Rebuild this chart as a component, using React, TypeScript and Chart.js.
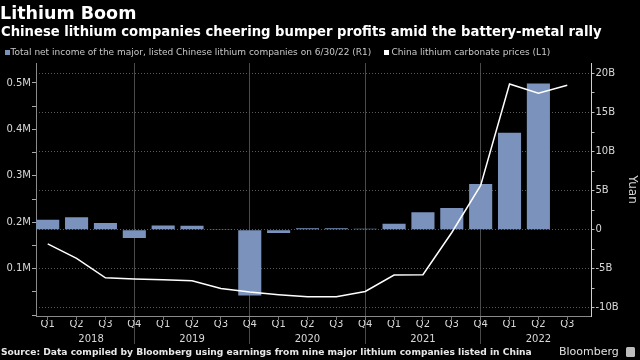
import React, { useEffect, useRef } from 'react';
import { Chart, registerables } from 'chart.js';

Chart.register(...registerables);

// ---- data ----
const quarterLabels = [
  'Q1', 'Q2', 'Q3', 'Q4',
  'Q1', 'Q2', 'Q3', 'Q4',
  'Q1', 'Q2', 'Q3', 'Q4',
  'Q1', 'Q2', 'Q3', 'Q4',
  'Q1', 'Q2', 'Q3',
];
const yearLabels = ['2018', '2019', '2020', '2021', '2022'];
// quarter index under which each year label is centred
const yearLabelAt = [1.5, 5, 9, 13, 17];
// quarter index of the year-end gridlines
const yearEndQuarters = [3, 7, 11, 15];

// Total net income (billion yuan), right axis
const netIncomeBn: (number | null)[] = [
  1.28, 1.58, 0.86, -1.06,
  0.55, 0.51, 0.08, -8.42,
  -0.43, 0.2, 0.2, 0.12,
  0.77, 2.22, 2.78, 5.86,
  12.4, 18.7, null,
];
// China lithium carbonate price (yuan / t), left axis
const carbonatePrice = [
  153400, 122300, 80500, 78000,
  76000, 74000, 57500, 49700,
  44000, 39500, 39500, 51000,
  86400, 87000, 178000, 279500,
  497800, 477700, 495000,
];
const leftTicks = [0, 50000, 100000, 150000, 200000, 250000, 300000, 350000, 400000, 450000, 500000];
const rightTicks = [-10, -7.5, -5, -2.5, 0, 2.5, 5, 7.5, 10, 12.5, 15, 17.5, 20];

const legendIncome = 'Total net income of the major, listed Chinese lithium companies on 6/30/22 (R1)';
const legendPrice = 'China lithium carbonate prices (L1)';

const BAR = '#7b93bc';
const GRID = '#4a4a4a';
const TXT = '#d8d8d8';
const FONT = 'DejaVu Sans';

export default function App() {
  const ref = useRef<HTMLCanvasElement | null>(null);

  useEffect(() => {
    if (!ref.current) return;
    Chart.defaults.font.family = FONT;
    const qIdx = quarterLabels.map((_, i) => i);
    const chart = new Chart(ref.current, {
      type: 'line',
      data: {
        datasets: [
          {
            type: 'line',
            label: legendPrice,
            data: carbonatePrice.map((v, i) => ({ x: i, y: v })),
            xAxisID: 'xt',
            yAxisID: 'yL',
            borderColor: '#ffffff',
            borderWidth: 1.5,
            pointRadius: 0,
            tension: 0,
            order: 0,
          },
          {
            type: 'bar',
            label: legendIncome,
            data: netIncomeBn.map((v, i) => ({ x: i, y: v })),
            xAxisID: 'xt',
            yAxisID: 'yR',
            backgroundColor: BAR,
            borderWidth: 0,
            barPercentage: 0.8,
            categoryPercentage: 1,
            order: 1,
          } as any,
        ],
      },
      options: {
        responsive: false,
        animation: false,
        devicePixelRatio: 1,
        layout: { padding: { top: 63, left: 0, right: 0, bottom: 0 } },
        plugins: { legend: { display: false }, tooltip: { enabled: false }, title: { display: false } },
        scales: {
          xt: {
            type: 'linear',
            position: 'bottom',
            weight: 0,
            min: -0.406,
            max: 18.84,
            offset: false,
            afterBuildTicks: (s: any) => { s.ticks = qIdx.map((v) => ({ value: v })); },
            afterFit: (s: any) => { s.height = 4; },
            ticks: { display: false },
            grid: { offset: false, drawOnChartArea: false, tickLength: 4, tickColor: '#777', tickWidth: 1 },
            border: { display: true, color: '#8a8a8a', width: 1 },
          },
          xq: {
            type: 'linear',
            position: 'bottom',
            weight: 1,
            min: -0.406,
            max: 18.84,
            offset: false,
            afterBuildTicks: (s: any) => { s.ticks = qIdx.map((v) => ({ value: v })); },
            afterFit: (s: any) => { s.height = 14; },
            ticks: {
              autoSkip: false,
              maxRotation: 0,
              padding: -26,
              color: TXT,
              font: { size: 10 },
              callback: (v: any) => quarterLabels[Math.round(v)] ?? '',
            },
            grid: {
              offset: false,
              drawOnChartArea: true,
              tickLength: 24,
              color: (c: any) => (yearEndQuarters.includes(c.tick?.value) ? GRID : 'rgba(0,0,0,0)'),
              tickColor: (c: any) => (yearEndQuarters.includes(c.tick?.value) ? GRID : 'rgba(0,0,0,0)'),
              lineWidth: 1,
            },
            border: { display: false },
          },
          xy: {
            type: 'linear',
            position: 'bottom',
            weight: 2,
            min: -0.406,
            max: 18.84,
            offset: false,
            afterBuildTicks: (s: any) => { s.ticks = yearLabelAt.map((v) => ({ value: v })); },
            afterFit: (s: any) => { s.height = 26; },
            ticks: {
              autoSkip: false,
              maxRotation: 0,
              padding: -1,
              color: TXT,
              font: { size: 10 },
              callback: (v: any) => {
                const k = yearLabelAt.indexOf(v);
                return k >= 0 ? yearLabels[k] : '';
              },
            },
            grid: { display: false, drawTicks: false, tickLength: 0 },
            border: { display: false },
          },
          yL: {
            type: 'linear',
            position: 'left',
            min: -1800,
            max: 543000,
            afterBuildTicks: (s: any) => { s.ticks = leftTicks.map((v) => ({ value: v })); },
            afterFit: (s: any) => { s.width = 36; },
            ticks: {
              padding: 1,
              color: TXT,
              font: { size: 10 },
              callback: (v: any) => (v > 0 && v % 100000 === 0 ? v / 1000000 + 'M' : ''),
            },
            grid: { drawOnChartArea: false, tickLength: 4, tickColor: '#aaa' },
            border: { display: true, color: '#8a8a8a', width: 1 },
          },
          yR: {
            type: 'linear',
            position: 'right',
            min: -11.05,
            max: 21.34,
            afterBuildTicks: (s: any) => { s.ticks = rightTicks.map((v) => ({ value: v })); },
            afterFit: (s: any) => { s.width = 48.5; },
            ticks: {
              padding: 1,
              color: TXT,
              font: { size: 10 },
              callback: (v: any) => (v % 5 === 0 ? (v === 0 ? '0' : v + 'B') : ''),
            },
            title: { display: true, text: 'Yuan', color: TXT, font: { size: 12 }, padding: { top: 1, bottom: 0 } },
            grid: {
              drawOnChartArea: true,
              tickLength: 3,
              color: (c: any) => (c.tick && c.tick.value % 5 === 0 ? '#5a5a5a' : 'rgba(0,0,0,0)'),
              tickColor: '#bbb',
            },
            border: { display: true, color: '#cfcfcf', width: 1, dash: [1, 2] },
          },
        },
      } as any,
    });
    return () => chart.destroy();
  }, []);

  const abs = (s: React.CSSProperties): React.CSSProperties => ({ position: 'absolute', whiteSpace: 'nowrap', lineHeight: 1, fontFamily: FONT, ...s });

  return (
    <div style={{ position: 'fixed', left: 0, top: 0, width: 640, height: 360, background: '#000', overflow: 'hidden' }}>
      <canvas ref={ref} width={640} height={360} style={{ position: 'absolute', left: 0, top: 0, width: 640, height: 360 }} />
      <div style={abs({ left: 0, top: 5, fontSize: 17.5, fontWeight: 'bold', color: '#fff' })}>Lithium Boom</div>
      <div style={abs({ left: 1, top: 25, fontSize: 13.2, fontWeight: 'bold', color: '#fff' })}>
        Chinese lithium companies cheering bumper profits amid the battery-metal rally
      </div>
      <div style={abs({ left: 5, top: 50, width: 5, height: 5, background: BAR })} />
      <div style={abs({ left: 10.5, top: 48, fontSize: 9, color: '#c8c8c8' })}>{legendIncome}</div>
      <div style={abs({ left: 384, top: 50, width: 5, height: 5, background: '#fff' })} />
      <div style={abs({ left: 391.5, top: 48, fontSize: 9, color: '#c8c8c8' })}>{legendPrice}</div>
      <div style={abs({ left: 1, top: 348, fontSize: 9.15, fontWeight: 'bold', color: '#e8e8e8' })}>
        Source: Data compiled by Bloomberg using earnings from nine major lithium companies listed in China
      </div>
      <div style={abs({ left: 559, top: 345.7, fontSize: 11, color: '#e0e0e0' })}>Bloomberg</div>
      <div style={abs({ left: 626, top: 347, width: 9, height: 10, background: '#bdbdbd', borderRadius: 1.5 })} />
    </div>
  );
}
